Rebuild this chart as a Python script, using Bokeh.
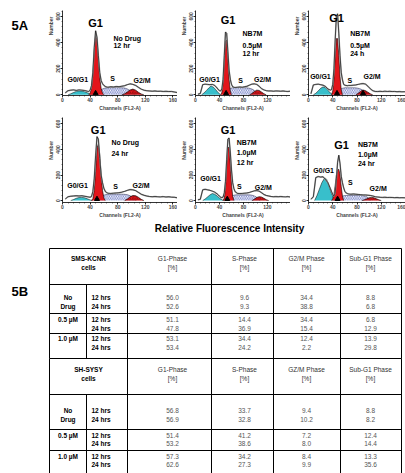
from bokeh.plotting import figure
from bokeh.layouts import column, row
from bokeh.models import Range1d, FixedTicker, ColumnDataSource
from bokeh.core.properties import value
from bokeh.embed import file_html
from bokeh.resources import INLINE

FONT = "Liberation Sans"
NBSP = "\u00a0"

# ---------------- histogram data (channel, number of events) ----------------
RAW_CH = [4, 8, 12, 16, 20, 24, 28, 32, 36,
          38, 40, 42, 44, 46, 48, 50, 52, 54, 56, 58, 60, 62, 64, 66,
          70, 74, 78, 82, 86, 90, 94, 98, 102, 106, 110, 114, 118, 122, 126,
          130, 134, 138, 142, 146, 150, 154, 158, 162, 166]

P1_RAW = [15, 32, 36, 38, 34, 38, 36, 33, 28,
          26, 35, 70, 170, 360, 490, 440, 300, 170, 110, 85, 72, 64, 60, 58,
          62, 60, 64, 62, 66, 70, 78, 84, 80, 72, 58, 44, 36, 32, 30, 28, 30, 27, 28, 26, 27, 25, 26, 22, 18]
P2_RAW = [5, 10, 78, 82, 80, 78, 80, 72, 52,
          40, 32, 30, 45, 120, 300, 480, 470, 330, 190, 120, 80, 62, 58, 56,
          58, 60, 58, 62, 66, 74, 82, 84, 80, 66, 48, 38, 32, 30, 30, 28, 30, 29, 28, 30, 27, 26, 28, 25, 22]
P3_RAW = [8, 76, 80, 82, 78, 74, 64, 45, 36,
          40, 80, 200, 420, 600, 620, 470, 300, 170, 115, 80, 74, 72, 70, 72,
          72, 74, 76, 80, 84, 86, 82, 66, 46, 32, 26, 25, 27, 25, 28, 26, 27, 25, 26, 24, 25, 23, 24, 22, 20]
P4_RAW = [12, 30, 34, 36, 38, 36, 38, 34, 30,
          28, 26, 32, 70, 170, 350, 500, 480, 330, 200, 140, 95, 72, 62, 58,
          56, 58, 60, 62, 66, 72, 80, 86, 84, 78, 64, 50, 42, 36, 32, 30, 32, 30, 29, 31, 28, 30, 27, 26, 22]
P5_RAW = [6, 10, 84, 88, 84, 80, 74, 66, 52,
          44, 34, 26, 22, 28, 60, 150, 320, 480, 490, 380, 240, 140, 95, 70,
          56, 55, 56, 58, 60, 64, 70, 76, 78, 74, 62, 48, 40, 36, 32, 30, 31, 30, 32, 30, 29, 31, 28, 27, 24]
P6_RAW = [10, 30, 180, 188, 184, 186, 165, 140, 95,
          70, 48, 34, 60, 170, 300, 355, 290, 190, 140, 100, 72, 60, 55, 52,
          50, 52, 50, 48, 46, 44, 44, 42, 40, 36, 30, 28, 26, 25, 26, 24, 25, 24, 23, 24, 22, 23, 22, 20, 18]

# fitted components: (channels, counts)
P1_SUBG1 = ([8, 12, 16, 20, 24, 28, 32, 36, 40, 44], [0, 8, 18, 26, 30, 29, 24, 16, 6, 0])
P1_G1 = ([38, 40, 42, 44, 46, 48, 50, 52, 54, 56, 58, 60], [0, 12, 50, 150, 330, 455, 420, 270, 130, 50, 14, 0])
P1_S = ([46, 50, 54, 58, 62, 66, 70, 74, 78, 82, 86, 90, 94, 98, 102, 106], [0, 12, 30, 45, 52, 54, 55, 55, 55, 55, 54, 52, 45, 32, 14, 0])
P1_G2 = ([86, 90, 94, 98, 102, 106, 110, 114, 118], [0, 8, 22, 38, 44, 36, 20, 7, 0])

P2_SUBG1 = ([10, 14, 18, 22, 26, 30, 34, 38, 42], [0, 14, 32, 52, 68, 58, 38, 16, 0])
P2_G1 = ([42, 44, 46, 48, 50, 52, 54, 56, 58, 60], [0, 20, 90, 250, 410, 420, 280, 120, 30, 0])
P2_S = ([48, 52, 56, 60, 64, 68, 72, 76, 80, 84, 88, 92, 96, 100, 104], [0, 25, 45, 52, 55, 55, 55, 55, 55, 54, 52, 48, 40, 25, 0])
P2_G2 = ([90, 94, 98, 102, 106, 110, 114, 118], [0, 10, 25, 36, 34, 22, 9, 0])

P3_SUBG1 = ([8, 12, 16, 20, 24, 28, 32, 36, 40], [0, 12, 30, 50, 61, 55, 36, 14, 0])
P3_G1 = ([38, 40, 42, 44, 46, 48, 50, 52, 54, 56], [0, 30, 120, 290, 430, 430, 300, 140, 40, 0])
P3_S = ([44, 48, 52, 56, 60, 64, 68, 72, 76, 80, 84, 88, 92, 96], [0, 22, 42, 50, 54, 54, 54, 54, 54, 52, 48, 40, 25, 0])
P3_G2 = ([78, 82, 86, 90, 94, 98, 102, 106], [0, 12, 28, 37, 32, 20, 8, 0])

P4_SUBG1 = ([12, 16, 20, 24, 28, 32, 36, 40, 44], [0, 8, 18, 24, 25, 22, 14, 5, 0])
P4_G1 = ([42, 44, 46, 48, 50, 52, 54, 56, 58, 60, 62], [0, 15, 80, 230, 410, 445, 360, 200, 80, 20, 0])
P4_S = ([50, 54, 58, 62, 66, 70, 74, 78, 82, 86, 90, 94, 98, 102, 106], [0, 20, 38, 46, 50, 50, 50, 50, 50, 50, 49, 46, 38, 20, 0])
P4_G2 = ([90, 94, 98, 102, 106, 110, 114, 118], [0, 12, 30, 40, 38, 26, 10, 0])

P5_SUBG1 = ([12, 16, 20, 24, 28, 32, 36, 40, 44, 48], [0, 12, 28, 44, 55, 50, 36, 20, 6, 0])
P5_G1 = ([46, 48, 50, 52, 54, 56, 58, 60, 62, 64], [0, 20, 100, 270, 410, 420, 290, 130, 35, 0])
P5_S = ([52, 56, 60, 64, 68, 72, 76, 80, 84, 88, 92, 96, 100, 104, 108], [0, 20, 36, 42, 45, 45, 45, 45, 45, 45, 44, 40, 32, 18, 0])
P5_G2 = ([94, 98, 102, 106, 110, 114, 118, 122], [0, 10, 24, 30, 28, 18, 7, 0])

P6_SUBG1 = ([10, 14, 18, 22, 26, 28, 30, 34, 38, 42, 46], [0, 40, 90, 140, 172, 175, 165, 110, 55, 15, 0])
P6_G1 = ([38, 40, 42, 44, 46, 48, 50, 52, 54, 56, 58], [0, 15, 50, 120, 200, 240, 245, 200, 110, 35, 0])
P6_S = ([46, 50, 54, 58, 62, 66, 70, 74, 78, 82, 86, 90, 94, 98, 102], [0, 15, 30, 38, 40, 40, 40, 40, 40, 40, 40, 38, 34, 24, 0])
P6_G2 = ([88, 92, 96, 100, 104, 108, 112, 116, 120], [0, 6, 14, 22, 25, 22, 14, 6, 0])

G1_MARK = [48, 51, 47, 50, 53, 48]
G2_MARK = [None, None, 90, None, None, None]

PANEL_INFO = [["No Drug", "12 hr"], ["NB7M", "0.5µM", "12 hr"], ["NB7M", "0.5µM", "24 h"],
              ["No Drug", "24 hr"], ["NB7M", "1.0µM", "12 hr"], ["NB7M", "1.0µM", "24 hr"]]

X_TICKS = [0, 40, 80, 120, 160]
Y_TICKS = [0, 200, 400, 600]

# label placement in data units of each panel
PANEL_LAYOUT = [
    dict(g1=(47.8, 550), ix=73.9, iy=[433, 375], g0=(7.2, 119), s=(72.5, 126), g2=(102.9, 112)),
    dict(g1=(54.4, 572), ix=78.4, iy=[470, 377, 316], g0=(6.4, 117), s=(75.2, 112), g2=(97.6, 119)),
    dict(g1=(46.4, 589), ix=68.8, iy=[467, 377, 316], g0=(2.7, 141), s=(68.3, 112), g2=(90.7, 141)),
    dict(g1=(51.7, 552), ix=71.0, iy=[456, 370], g0=(6.8, 121), s=(76.8, 113), g2=(101.4, 121)),
    dict(g1=(54.4, 552), ix=68.8, iy=[453, 378, 295], g0=(8.0, 174), s=(73.1, 113), g2=(98.7, 106)),
    dict(g1=(54.4, 438), ix=81.6, iy=[438, 363, 287], g0=(8.0, 237), s=(68.8, 144), g2=(100.8, 93)),
]

# ---------------- table data ----------------
CELL_LINES = ["SMS-KCNR", "SH-SYSY"]
PHASE_HEADERS = [["G1-Phase", "S-Phase", "G2/M Phase", "Sub-G1 Phase"],
                 ["G1-Phase", "S-Phase", "GZ/M Phase", "Sub-G1 Phase"]]
DOSES = [["No", "Drug"], ["0.5 µM"], ["1.0 µM"]]
TIMES = ["12 hrs", "24 hrs"]
KCNR_G1 = [56.0, 52.6, 51.1, 47.8, 53.1, 53.4]
KCNR_S = [9.6, 9.3, 14.4, 36.9, 34.4, 24.2]
KCNR_G2M = [34.4, 38.8, 34.4, 15.4, 12.4, 2.2]
KCNR_SUBG1 = [8.8, 6.8, 6.8, 12.9, 13.9, 29.8]
SYSY_G1 = [56.8, 56.9, 51.4, 53.2, 57.3, 62.6]
SYSY_S = [33.7, 32.8, 41.2, 38.6, 34.2, 27.3]
SYSY_G2M = [9.4, 10.2, 7.2, 8.0, 8.4, 9.9]
SYSY_SUBG1 = [8.8, 8.2, 12.4, 14.4, 13.3, 35.6]

RED = "#e3151b"
CYAN = "#38bfcb"
HATCH_BLUE = "#4a5bb8"


def add_text(p, xs, ys, texts, size, bold=True, align="left", color="black"):
    src = ColumnDataSource(dict(x=xs, y=ys, t=texts))
    p.text(x="x", y="y", text="t", source=src, text_font=value(FONT),
           text_font_size=size, text_font_style="bold" if bold else "normal",
           text_align=align, text_baseline="middle", text_color=color)


def hist_panel(idx, raw, subg1, g1, s, g2, width, xend, height, yr, bl, bt, bb, pad):
    p = figure(width=width, height=height, x_range=Range1d(0, xend), y_range=Range1d(*yr),
               toolbar_location=None, output_backend="svg",
               min_border_left=bl, min_border_right=0, min_border_top=bt, min_border_bottom=bb)
    p.outline_line_color = None
    p.grid.visible = False
    p.background_fill_color = "white"
    # components
    p.varea(x=subg1[0], y1=0, y2=subg1[1], fill_color=CYAN)
    p.line(subg1[0], subg1[1], line_color="black", line_width=0.5)
    p.varea(x=s[0], y1=0, y2=s[1], fill_color="white", hatch_pattern="\\",
            hatch_color=HATCH_BLUE, hatch_scale=3.5, hatch_weight=0.7)
    p.line(s[0], s[1], line_color="#222244", line_width=0.5)
    p.varea(x=g1[0], y1=0, y2=g1[1], fill_color=RED)
    p.line(g1[0], g1[1], line_color="black", line_width=0.6)
    p.varea(x=g2[0], y1=0, y2=g2[1], fill_color=RED, hatch_pattern="/",
            hatch_color="black", hatch_scale=3.5, hatch_weight=0.5, hatch_alpha=0.7)
    p.line(g2[0], g2[1], line_color="black", line_width=0.6)
    # raw histogram outline
    p.line(RAW_CH, raw, line_color="#a0a0a0", line_width=1.5)
    p.line(RAW_CH, raw, line_color="black", line_width=0.6)
    # peak markers
    mx = [G1_MARK[idx]] + ([G2_MARK[idx]] if G2_MARK[idx] is not None else [])
    p.scatter(x=mx, y=[12] * len(mx), marker="triangle", size=5, color="black")
    # labels
    lay = PANEL_LAYOUT[idx]
    add_text(p, [lay["g1"][0]], [lay["g1"][1]], ["G1"], "11px", align="center")
    info = PANEL_INFO[idx]
    add_text(p, [lay["ix"]] * len(info), lay["iy"], info, "7px")
    add_text(p, [lay["g0"][0]], [lay["g0"][1]], ["G0/G1"], "7px")
    add_text(p, [lay["s"][0]], [lay["s"][1]], ["S"], "7px", align="center")
    add_text(p, [lay["g2"][0]], [lay["g2"][1]], ["G2/M"], "7px")
    # axes
    p.xaxis.axis_label = "Channels (FL2-A)"
    p.yaxis.axis_label = NBSP * pad + "Number"
    p.xaxis.ticker = FixedTicker(ticks=X_TICKS, minor_ticks=list(range(0, 170, 8)))
    p.yaxis.ticker = FixedTicker(ticks=Y_TICKS, minor_ticks=list(range(0, 660, 40)))
    for ax in (p.xaxis[0], p.yaxis[0]):
        ax.axis_line_color = "black"
        ax.axis_line_width = 0.8
        ax.major_tick_line_color = "black"
        ax.major_tick_out = 2
        ax.major_tick_in = 0
        ax.major_tick_line_width = 0.8
        ax.minor_tick_line_color = "black"
        ax.minor_tick_out = 1
        ax.minor_tick_in = 0
        ax.minor_tick_line_width = 0.5
        ax.major_label_text_font = FONT
        ax.major_label_text_font_size = "5px"
        ax.major_label_text_font_style = "bold"
        ax.axis_label_text_font = FONT
        ax.axis_label_text_font_size = "5px"
        ax.axis_label_text_font_style = "bold"
        ax.major_label_standoff = 0
        ax.axis_label_standoff = 0
    p.yaxis.major_label_orientation = "vertical"
    return p


RAWS = [P1_RAW, P2_RAW, P3_RAW, P4_RAW, P5_RAW, P6_RAW]
SUBS = [P1_SUBG1, P2_SUBG1, P3_SUBG1, P4_SUBG1, P5_SUBG1, P6_SUBG1]
G1S = [P1_G1, P2_G1, P3_G1, P4_G1, P5_G1, P6_G1]
SS = [P1_S, P2_S, P3_S, P4_S, P5_S, P6_S]
G2S = [P1_G2, P2_G2, P3_G2, P4_G2, P5_G2, P6_G2]

COL_GEOM = [(137, 166.7, 22), (113, 158.4, 14), (115, 160.0, 15)]
ROW_GEOM = [(113, (-5, 645), 10, 14, 39), (107, (-15, 650), 4, 15, 14)]

panels = []
for i in range(6):
    r, c = divmod(i, 3)
    w, xend, bl = COL_GEOM[c]
    h, yr, bt, bb, pad = ROW_GEOM[r]
    panels.append(hist_panel(i, RAWS[i], SUBS[i], G1S[i], SS[i], G2S[i], w, xend, h, yr, bl, bt, bb, pad))


def blank(width, height, x0, x1, y0, y1):
    p = figure(width=width, height=height, x_range=Range1d(x0, x1), y_range=Range1d(y1, y0),
               toolbar_location=None, output_backend="svg", min_border=0,
               x_axis_location=None, y_axis_location=None)
    p.outline_line_color = None
    p.grid.visible = False
    return p


# "5A" label
fa = blank(40, 220, 0, 40, 0, 220)
add_text(fa, [11], [25], ["5A"], "13px")

# common x label
fr = blank(405, 24, 0, 405, 220, 244)
add_text(fr, [229], [228], ["Relative Fluorescence Intensity"], "10px", align="center")

# table
ft = blank(405, 229, 0, 405, 244, 473)
add_text(ft, [11], [291], ["5B"], "13px")

COLX = [49, 86, 127, 211, 273, 340, 401]
TEXT_CX = [172, 244, 306, 370]

# block geometry: header top, header bottom, rows (top, bottom, line1 y, line2 y), header text ys
BLOCKS = [
    dict(top=248, hb=284, rows=[(284, 313, 297, 306), (313, 333, 319, 328), (333, 358, 338, 347)], hy=(258, 267)),
    dict(top=358, hb=394, rows=[(394, 429, 410, 419), (429, 450, 435, 443), (450, 480, 456, 464)], hy=(369, 378)),
]
VALUES = [[KCNR_G1, KCNR_S, KCNR_G2M, KCNR_SUBG1], [SYSY_G1, SYSY_S, SYSY_G2M, SYSY_SUBG1]]

x0s, y0s, x1s, y1s = [], [], [], []
bold_x, bold_y, bold_t = [], [], []
time_x, time_y, time_t = [], [], []
hdr_x, hdr_y, hdr_t = [], [], []
val_x, val_y, val_t = [], [], []
for b, blk in enumerate(BLOCKS):
    for yy in [blk["top"], blk["hb"]] + [rr[1] for rr in blk["rows"][:-1]]:
        x0s.append(COLX[0]); x1s.append(COLX[-1]); y0s.append(yy); y1s.append(yy)
    bot = blk["rows"][-1][1]
    for k, cx in enumerate(COLX):
        ystart = blk["hb"] if k == 1 else blk["top"]
        x0s.append(cx); x1s.append(cx); y0s.append(ystart); y1s.append(bot)
    # header
    cx01 = (COLX[0] + COLX[2]) / 2
    bold_x += [cx01, cx01]; bold_y += [blk["hy"][0], blk["hy"][1]]
    bold_t += [CELL_LINES[b], "cells"]
    for j, name in enumerate(PHASE_HEADERS[b]):
        hdr_x += [TEXT_CX[j], TEXT_CX[j]]; hdr_y += [blk["hy"][0], blk["hy"][1]]; hdr_t += [name, "[%]"]
    # rows
    for r, rr in enumerate(blk["rows"]):
        c0 = (COLX[0] + COLX[1]) / 2
        for li, lab in enumerate(DOSES[r]):
            bold_x.append(c0); bold_y.append(rr[2 + li]); bold_t.append(lab)
        for ti, tlab in enumerate(TIMES):
            time_x.append(COLX[1] + 5); time_y.append(rr[2 + ti]); time_t.append(tlab)
            for j in range(4):
                val_x.append(TEXT_CX[j]); val_y.append(rr[2 + ti])
                val_t.append("%.1f" % VALUES[b][j][r * 2 + ti])

ft.segment(x0=x0s, y0=y0s, x1=x1s, y1=y1s, line_color="black", line_width=1)
add_text(ft, bold_x, bold_y, bold_t, "6.5px", align="center")
add_text(ft, time_x, time_y, time_t, "6.5px")
add_text(ft, hdr_x, hdr_y, hdr_t, "6.5px", bold=False, align="center", color="#333333")
add_text(ft, val_x, val_y, val_t, "6.5px", bold=False, align="center", color="#555555")

layout = column(
    row(fa, column(row(panels[0], panels[1], panels[2]), row(panels[3], panels[4], panels[5]))),
    fr,
    ft,
)

open("out.html", "w").write(file_html(layout, INLINE))
